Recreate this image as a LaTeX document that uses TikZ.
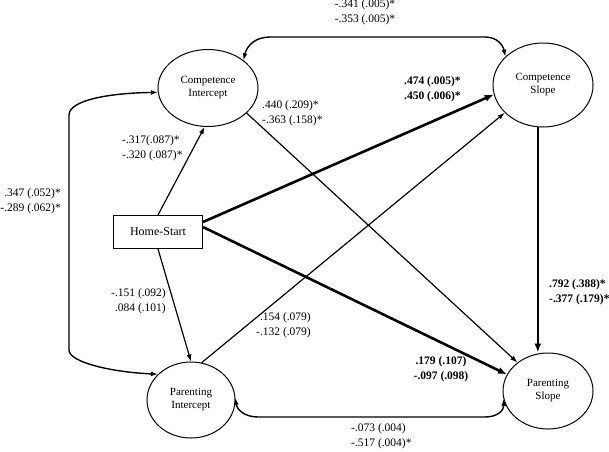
\documentclass[tikz,border=0pt]{standalone}
\usepackage{fontspec}
\setmainfont{Liberation Serif}
\usetikzlibrary{shapes.geometric,arrows.meta}

\begin{document}
\begin{tikzpicture}[x=1pt,y=-1pt,
  latent/.style={draw,ellipse,line width=1pt,align=center,font=\fontsize{11}{13}\selectfont},
  path/.style={line width=1.2pt,-{Latex[length=7pt,width=5pt]}},
  strong/.style={line width=2.6pt,-{Latex[length=9pt,width=7pt]}},
  covar/.style={line width=1.4pt,{Latex[length=7pt,width=5pt]}-{Latex[length=7pt,width=5pt]}},
  est/.style={inner sep=0pt,font=\fontsize{11.5}{14.5}\selectfont},
  bold/.style={font=\fontsize{11.5}{14.5}\selectfont\bfseries}]
\useasboundingbox (0,0) rectangle (609,451);
\node[latent,minimum width=100pt,minimum height=77pt] (ci) at (208,88) {Competence\\Intercept};
\node[latent,minimum width=100pt,minimum height=84pt] (cs) at (543,85) {Competence\\Slope};
\node[latent,minimum width=88pt,minimum height=76pt] (pi) at (191,400) {Parenting\\Intercept};
\node[latent,minimum width=90pt,minimum height=76pt] (ps) at (548,391) {Parenting\\Slope};
\node[draw,line width=1pt,minimum width=89pt,minimum height=33pt,font=\fontsize{12}{14}\selectfont] (hs) at (158,232) {Home-Start};
\draw[path] (hs.north) -- (ci.265);
\draw[path] (hs.south) -- (pi.north);
\draw[strong] ([yshift=10pt]hs.east) -- (cs.191);
\draw[strong] ([yshift=5pt]hs.east) -- (ps.158);
\draw[path] (ci.-33) -- (ps.137);
\draw[path] (pi.74) -- (cs.216);
\draw[strong] (cs.263) -- (cs.263 |- ps.north);
% covariances
\coordinate (t1) at (270,37);
\coordinate (t2) at (485,37);
\draw[covar] (ci.38) .. controls (247,45) and (256,37) .. (t1) -- (t2) .. controls (497,37) and (503,45) .. (cs.143);
\coordinate (l1) at (69,115);
\coordinate (l2) at (69,350);
\draw[covar] (ci.185) .. controls (110,93) and (69,100) .. (l1) -- (l2) .. controls (69,362) and (110,372) .. (pi.142);
\coordinate (b1) at (258,417);
\coordinate (b2) at (485,417);
\draw[covar] (pi.3) .. controls (237,410) and (245,417) .. (b1) -- (b2) .. controls (498,417) and (504,410) .. (ps.190);
% estimates
\node[est,align=center] (ltop) at (365,12) {-.341 (.005)*\\-.353 (.005)*};
\node[est,align=right,anchor=east] (lleft) at (61,201) {.347 (.052)*\\-.289 (.062)*};
\node[est,align=left,anchor=west] (lhsci) at (122,148) {-.317(.087)*\\-.320 (.087)*};
\node[est,align=left,anchor=west] (lcips) at (262,113) {.440 (.209)*\\-.363 (.158)*};
\node[est,bold,align=left,anchor=west] (lhscs) at (404,89) {.474 (.005)*\\.450 (.006)*};
\node[est,align=right,anchor=east] (lhspi) at (166,301) {-.151 (.092)\\.084 (.101)};
\node[est,align=right,anchor=east] (lpics) at (311,325) {.154 (.079)\\-.132 (.079)};
\node[est,bold,align=center] (lhsps) at (441,369) {.179 (.107)\\-.097 (.098)};
\node[est,bold,align=left,anchor=west] (lcsps) at (549,292) {.792 (.388)*\\-.377 (.179)*};
\node[est,align=left,anchor=west] (lbot) at (351,436) {-.073 (.004)\\-.517 (.004)*};
\end{tikzpicture}
\end{document}
